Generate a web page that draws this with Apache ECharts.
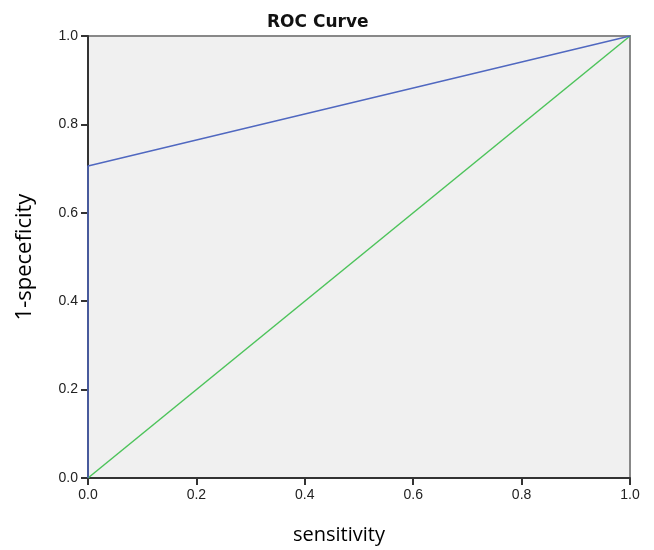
<!DOCTYPE html>
<html>
<head>
<meta charset="utf-8">
<script src="https://cdn.jsdelivr.net/npm/echarts@6/dist/echarts.min.js"></script>
<style>html,body{margin:0;padding:0;background:#fff}#c{width:654px;height:550px}</style>
</head>
<body>
<div id="c"></div>
<script>
var rocX = [0, 0, 1];
var rocY = [0, 0.706, 1];
var refX = [0, 1];
var refY = [0, 1];
var tickValues = [0, 0.2, 0.4, 0.6, 0.8, 1.0];

function pairs(xs, ys) { return xs.map(function (x, i) { return [x, ys[i]]; }); }

var chart = echarts.init(document.getElementById('c'));
var axisCommon = {
  type: 'value', min: 0, max: 1, interval: 0.2,
  axisLine: { show: true, lineStyle: { color: '#333', width: 2 } },
  axisTick: { show: true, length: 7, lineStyle: { color: '#333', width: 2 } },
  axisLabel: { color: '#222', fontFamily: 'Liberation Sans', fontSize: 14, margin: 10,
    formatter: function (v) { return v.toFixed(1); } },
  splitLine: { show: false },
  nameLocation: 'middle',
  nameTextStyle: { color: '#000', fontFamily: 'Open Sans', fontSize: 20 }
};
chart.setOption({
  animation: false,
  title: { text: 'ROC Curve', left: 262, top: 9,
    textStyle: { fontFamily: 'DejaVu Sans', fontWeight: 'bold', fontSize: 17, color: '#111' } },
  grid: { left: 88, right: 24, top: 36, bottom: 72, show: true,
    backgroundColor: '#f0f0f0', borderColor: '#888', borderWidth: 2 },
  xAxis: Object.assign({}, axisCommon, { name: 'sensitivity', nameGap: 47,
    nameTextStyle: { color: '#000', fontFamily: 'Open Sans', fontSize: 20, padding: [0, 40, 0, 0] } }),
  yAxis: Object.assign({}, axisCommon, { name: '1-speceficity', nameGap: 52,
    nameTextStyle: { color: '#000', fontFamily: 'Open Sans', fontSize: 22 } }),
  series: [
    { type: 'line', data: pairs(refX, refY), symbol: 'none',
      lineStyle: { color: '#4cc35a', width: 1.5 } },
    { type: 'line', data: pairs(rocX, rocY), symbol: 'none',
      lineStyle: { color: '#5068c0', width: 1.5 } }
  ]
});
</script>
</body>
</html>
